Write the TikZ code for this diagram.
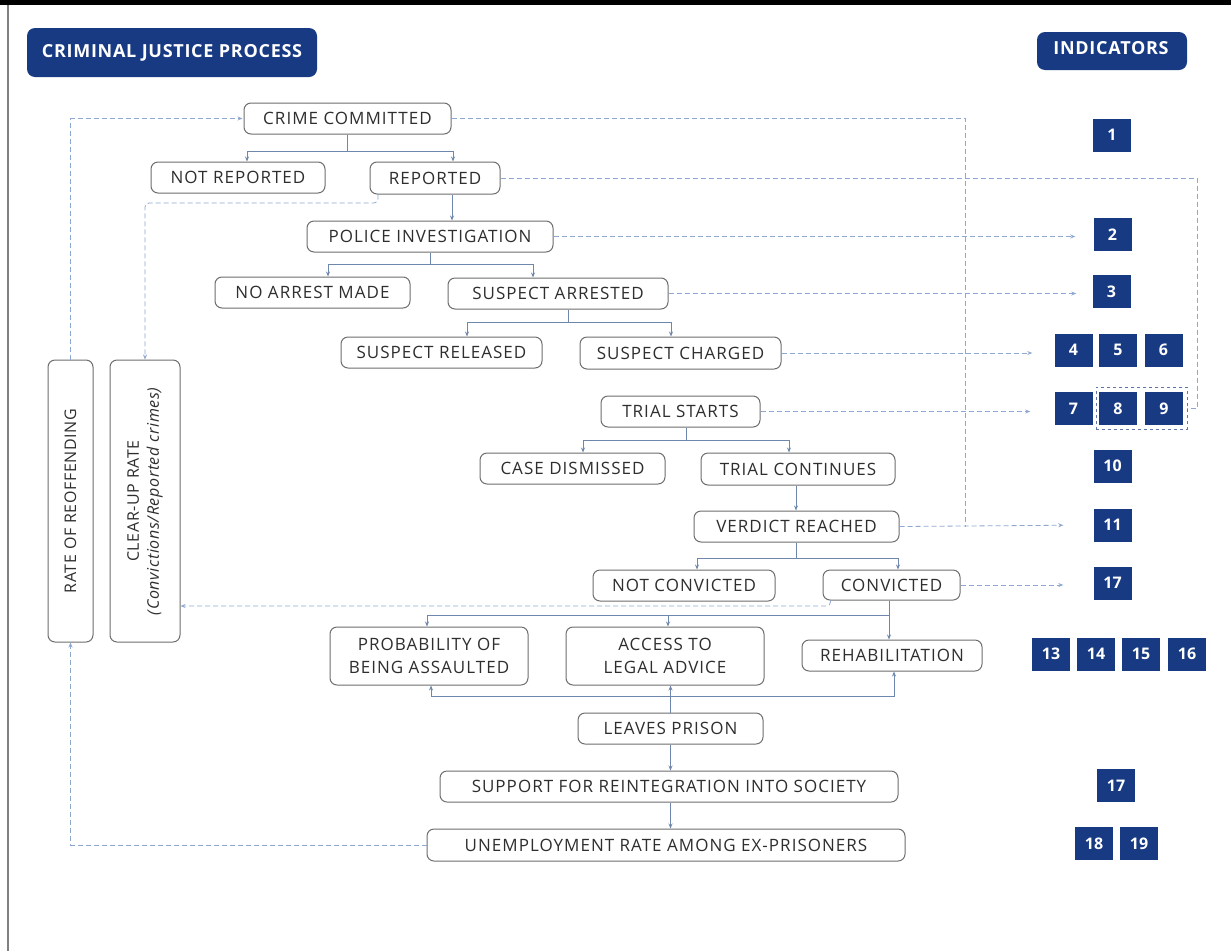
\documentclass[tikz,border=0pt]{standalone}
\usepackage{fontspec}
\setmainfont{Open Sans}
\newfontfamily\boxfont[LetterSpace=6]{Open Sans}
\newfontfamily\vfont[LetterSpace=4]{Open Sans}
\newfontfamily\hdrfont[LetterSpace=4]{Open Sans}
\usetikzlibrary{arrows.meta,calc}
\definecolor{navy}{HTML}{173A83}
\definecolor{bordergray}{HTML}{6E6E6E}
\definecolor{txt}{HTML}{2E2E2E}
\definecolor{solidln}{HTML}{6F86AD}
\definecolor{dashln}{HTML}{8FA8D2}
\begin{document}
\begin{tikzpicture}[x=1pt,y=-1pt,
 box/.style={draw=bordergray, line width=1pt, rounded corners=7pt, fill=white, text=txt, inner sep=0pt, align=center, font=\boxfont\fontsize{17}{23}\selectfont},
 ind/.style={fill=navy, text=white, inner sep=0pt, minimum width=38pt, minimum height=33pt, font=\bfseries\fontsize{16}{18}\selectfont},
 hdr/.style={fill=navy, text=white, rounded corners=8pt, inner sep=0pt, font=\hdrfont\bfseries\fontsize{18}{20}\selectfont},
 ln/.style={draw=solidln, line width=0.8pt},
 arr/.style={-{Stealth[length=5pt,width=4pt]}},
 dl/.style={draw=dashln, line width=0.8pt, dash pattern=on 5pt off 3pt},
 vtext/.style={rotate=90, text=txt, align=center, inner sep=0pt, font=\vfont\fontsize{16}{20}\selectfont},
]
\useasboundingbox (0,0) rectangle (1231,951);
\fill[white] (0,0) rectangle (1231,951);
\fill[black] (0,0) rectangle (1231,5);
\draw[gray, line width=1.2pt] (8,5) -- (8,951);

% headers
\node[hdr, minimum width=290pt, minimum height=49pt] (title) at (172,52.5) {CRIMINAL JUSTICE PROCESS};
\node[hdr, minimum width=150pt, minimum height=38pt] (indic) at (1112,51) {};
\node[text=white, inner sep=0pt, font=\hdrfont\bfseries\fontsize{18}{20}\selectfont] (indict) at (1111,48) {INDICATORS};

% process boxes
\node[box, minimum width=207pt, minimum height=31pt] (cc) at (347.5,118.5) {CRIME COMMITTED};
\node[box, minimum width=174pt, minimum height=31pt] (nr) at (238,177.5) {NOT REPORTED};
\node[box, minimum width=130pt, minimum height=32pt] (rep) at (435,178) {REPORTED};
\node[box, minimum width=246pt, minimum height=31pt] (pi) at (430,236.5) {POLICE INVESTIGATION};
\node[box, minimum width=195pt, minimum height=31pt] (nam) at (312.5,292.5) {NO ARREST MADE};
\node[box, minimum width=220pt, minimum height=31pt] (sa) at (558,293.5) {SUSPECT ARRESTED};
\node[box, minimum width=201pt, minimum height=31pt] (sr) at (441.5,352.5) {SUSPECT RELEASED};
\node[box, minimum width=201pt, minimum height=32pt] (sc) at (680.5,353) {SUSPECT CHARGED};
\node[box, minimum width=159pt, minimum height=31pt] (ts) at (680.5,411.5) {TRIAL STARTS};
\node[box, minimum width=185pt, minimum height=31pt] (cd) at (572.5,468.5) {CASE DISMISSED};
\node[box, minimum width=194pt, minimum height=32pt] (tc) at (798,469) {TRIAL CONTINUES};
\node[box, minimum width=205pt, minimum height=31pt] (vr) at (796.5,526.5) {VERDICT REACHED};
\node[box, minimum width=182pt, minimum height=31pt] (ncv) at (684,585.5) {NOT CONVICTED};
\node[box, minimum width=137pt, minimum height=30pt] (cv) at (891.5,585) {CONVICTED};
\node[box, minimum width=198pt, minimum height=58pt] (pba) at (429,656) {PROBABILITY OF\\BEING ASSAULTED};
\node[box, minimum width=198pt, minimum height=58pt] (alv) at (665,656) {ACCESS TO\\LEGAL ADVICE};
\node[box, minimum width=180pt, minimum height=31pt] (reh) at (892,655.5) {REHABILITATION};
\node[box, minimum width=185pt, minimum height=31pt] (lp) at (670.5,728.5) {LEAVES PRISON};
\node[box, minimum width=458pt, minimum height=31pt] (sup) at (669,786.5) {SUPPORT FOR REINTEGRATION INTO SOCIETY};
\node[box, minimum width=478pt, minimum height=32pt] (une) at (666,845) {UNEMPLOYMENT RATE AMONG EX-PRISONERS};

% vertical boxes
\node[box, minimum width=45pt, minimum height=282pt] (rr) at (70.5,501) {};
\node[vtext] (rrt) at (rr.center) {RATE OF REOFFENDING};
\node[box, minimum width=70pt, minimum height=282pt] (cu) at (145,501) {};
\node[vtext] (cut) at (cu.center) {CLEAR-UP RATE\\\textit{(Convictions/Reported crimes)}};

% indicators
\node[ind] (i1) at (1112,135) {1};
\node[ind] (i2) at (1112.5,234.5) {2};
\node[ind] (i3) at (1111.5,291.5) {3};
\node[ind] (i4) at (1073.5,350) {4};
\node[ind] (i5) at (1118,350) {5};
\node[ind] (i6) at (1163.5,350) {6};
\node[ind] (i7) at (1073.5,408.5) {7};
\node[ind] (i8) at (1118,408.5) {8};
\node[ind] (i9) at (1164,408.5) {9};
\node[ind] (i10) at (1112.5,466) {10};
\node[ind] (i11) at (1112.5,525) {11};
\node[ind] (i17a) at (1112.5,583) {17};
\node[ind] (i13) at (1051,654) {13};
\node[ind] (i14) at (1096,654) {14};
\node[ind] (i15) at (1141,654) {15};
\node[ind] (i16) at (1187,654) {16};
\node[ind] (i17b) at (1116,785.5) {17};
\node[ind] (i18) at (1094,843.5) {18};
\node[ind] (i19) at (1139,843.5) {19};
\node[draw=navy!70, dashed, line width=0.8pt, minimum width=91pt, minimum height=42pt, inner sep=0pt] (fr) at (1141.5,408) {};

% helper coordinates
\coordinate (k1) at (965,0);
\coordinate (k2) at (1197,0);
\coordinate (k3) at (0,203);
\coordinate (k4) at (0,606);

% solid connectors
\draw[ln] (cc.south) -- ++(0,17) coordinate (b1);
\draw[ln,arr] (b1) -| ([xshift=9pt]nr.north);
\draw[ln,arr] (b1) -| ([xshift=18pt]rep.north);
\draw[ln,arr] ([xshift=17pt]rep.south) -- ([xshift=17pt]rep.south |- pi.north);
\draw[ln] (pi.south) -- ++(0,12) coordinate (b2);
\draw[ln,arr] (b2) -| ([xshift=15.5pt]nam.north);
\draw[ln,arr] (b2) -| ([xshift=-25pt]sa.north);
\draw[ln] ([xshift=10pt]sa.south) -- ++(0,13) coordinate (b3);
\draw[ln,arr] (b3) -| ([xshift=25.5pt]sr.north);
\draw[ln,arr] (b3) -| ([xshift=-9.5pt]sc.north);
\draw[ln] ([xshift=5.5pt]ts.south) -- ++(0,13) coordinate (b4);
\draw[ln,arr] (b4) -| ([xshift=10.5pt]cd.north);
\draw[ln,arr] (b4) -| ([xshift=-9pt]tc.north);
\draw[ln,arr] ([xshift=-2pt]tc.south) -- ([xshift=-2pt]tc.south |- vr.north);
\draw[ln] (vr.south) -- ++(0,16) coordinate (b5);
\draw[ln,arr] (b5) -| ([xshift=13pt]ncv.north);
\draw[ln,arr] (b5) -| ([xshift=6.5pt]cv.north);
\draw[ln] ([xshift=-2.5pt]cv.south) -- ++(0,15) coordinate (b6);
\draw[ln,arr] (b6) -| ([xshift=-2pt]pba.north);
\draw[ln,arr] (b6) -| ([xshift=3pt]alv.north);
\draw[ln,arr] (b6) -- ([xshift=-3pt]reh.north);
\draw[ln] (lp.north) -- ++(0,-16) coordinate (b7);
\draw[ln,arr] (b7) -| ([xshift=2pt]pba.south);
\draw[ln,arr] (b7) -- (b7 |- alv.south);
\draw[ln,arr] (b7) -| ([xshift=2pt]reh.south);
\draw[ln,arr] (lp.south) -- (lp.south |- sup.north);
\draw[ln,arr] (lp.south |- sup.south) -- (lp.south |- une.north);

% dashed connectors
\draw[dl] (cc.east) -| (k1 |- vr.east);
\draw[dl,arr,shorten >=30pt] (vr.east) -- (i11.west);
\draw[dl] (rep.east) -| (k2 |- fr.east) -- (fr.east);
\draw[dl,arr,rounded corners=4pt] ([xshift=-57pt]rep.south) |- (k3 -| cu.north) -- (cu.north);
\draw[dl,arr] (rr.north) |- ([xshift=-1pt]cc.west);
\draw[dl,arr] (une.west) -| (rr.south);
\draw[dl,arr,rounded corners=4pt] ([xshift=-61pt]cv.south) |- (k4 -| cu.east);
\draw[dl,arr,shorten >=18pt] (pi.east) -- (pi.east -| i2.west);
\draw[dl,arr,shorten >=16pt] (sa.east) -- (sa.east -| i3.west);
\draw[dl,arr,shorten >=22pt] (sc.east) -- (sc.east -| i4.west);
\draw[dl,arr,shorten >=24pt] (ts.east) -- (ts.east -| i7.west);
\draw[dl,arr,shorten >=30pt] (cv.east) -- (cv.east -| i17a.west);
\end{tikzpicture}
\end{document}
